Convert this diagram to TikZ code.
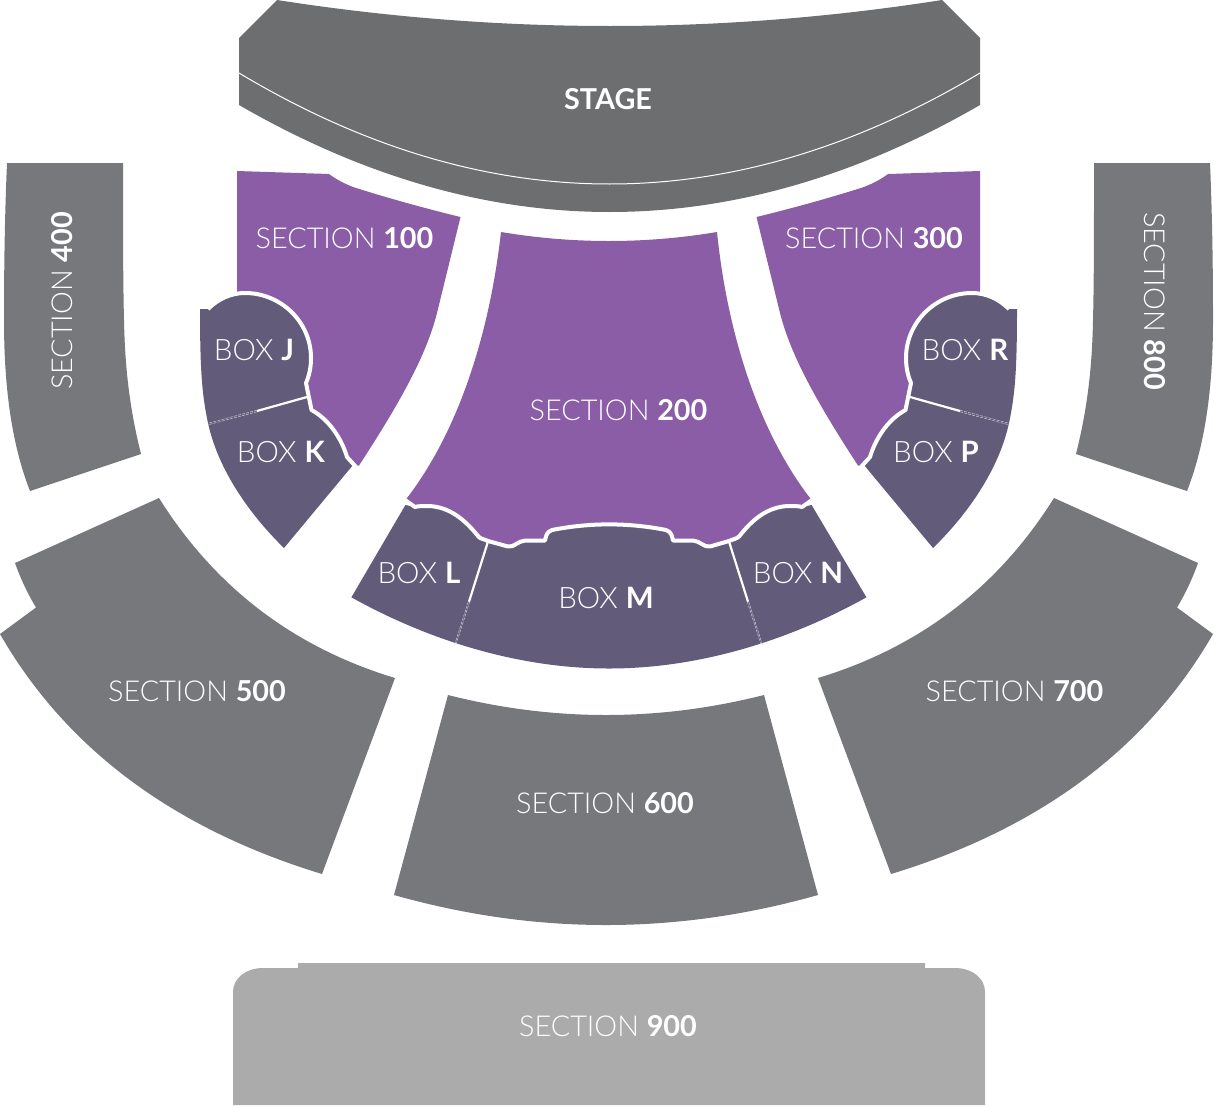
\documentclass[tikz,border=0pt]{standalone}
\usepackage{fontspec}
\setmainfont{Lato}[UprightFont=* Light,BoldFont=* Bold]
\usetikzlibrary{calc}
\definecolor{stagecol}{HTML}{6D6E70}
\definecolor{seccol}{HTML}{77787B}
\definecolor{backcol}{HTML}{ABABAB}
\definecolor{purplecol}{HTML}{8A5DA6}
\definecolor{boxcol}{HTML}{625C7A}
\newcommand\qc[3]{.. controls ($1.3333*(#2)-0.3333*(#3)$) and ($1.3333*(#2)-0.3333*(#1)$) .. (#3)}
\newcommand\midline{(415,507) .. controls (418,506) and (423,506) .. (429,506)
 .. controls (450,507) and (465,520) .. (478,536) .. controls (480,539) and (484,539) .. (488,541)
 -- (508,546.5) .. controls (514,547.5) and (518,541) .. (525,540.5) -- (545,540.5)
 .. controls (546,537) and (546,532) .. (552,530) .. controls (590,522.5) and (628,522.5) .. (666,530)
 .. controls (672,532) and (672,537) .. (673,540.5) -- (693,540.5)
 .. controls (700,541) and (704,547.5) .. (710,546.5) -- (729,541)
 .. controls (733,539) and (737,539) .. (739.5,536) .. controls (752,520) and (767,507) .. (788,506)
 .. controls (794,506) and (799,506) .. (802,507)}
\newcommand\sideline{(208,309) .. controls (218,299) and (231,293) .. (245,293)
 .. controls (281,293) and (311,322) .. (311,358) .. controls (311,368) and (309,376) .. (306,383)
 -- (311.5,410) .. controls (330,420) and (342,440) .. (347,457)}
\newcommand\sidepurple{
  \fill[purplecol] (237,171) -- (329,174) \qc{329,174}{340,181}{353,187} \qc{353,187}{405,202.5}{460.5,217}
    \qc{460.5,217}{449,264}{437,313} .. controls (427,352) and (405,395) .. (359,465.5)
    -- (356,466) -- (340,465) -- (300,420) -- (290,340) -- (237,320) -- cycle;
  \fill[boxcol] (200,309) -- \sideline -- (353,465) -- (284,548)
    .. controls (245,510) and (217,465) .. (208,423)
    .. controls (202,395) and (200,370) .. (200,309) -- cycle;
  \draw[whiteline] \sideline -- (356.5,467.5);
  \draw[divline] (307,397) -- (257,411);
  \draw[dashline] (257,410.2) -- (208,423.2);
  \draw[dashline] (257,411.8) -- (208,424.8);
}
\newcommand\sidegray{
  \fill[seccol] (7,163) -- (123,163) .. controls (123,230) and (123,280) .. (124,320)
    .. controls (125,370) and (130,410) .. (141,454) -- (30,491)
    .. controls (10,440) and (4,380) .. (4,320) .. controls (4,260) and (5,210) .. (7,163) -- cycle;
}
\tikzset{
  whiteline/.style={draw=white,line width=4pt,line join=round},
  divline/.style={draw=white,line width=2.2pt},
  dashline/.style={draw=white!70!boxcol,line width=0.5pt,dash pattern=on 3pt off 1.2pt},
  mirrored/.style={shift={(1217,0)},xscale=-1},
  lab/.style={text=white,font=\fontsize{28.8}{31}\selectfont,inner sep=0pt},
  blab/.style={lab,font=\fontsize{29.5}{31}\selectfont},
}
\begin{document}
\begin{tikzpicture}[x=1pt,y=-1pt]
\useasboundingbox (0,0) rectangle (1214,1106);
% stage
\fill[stagecol] (277,0) \qc{277,0}{610,26}{942,0} -- (980,38) -- (980,105)
  \qc{980,105}{609.5,212}{239,105} -- (239,38) -- cycle;
\draw[draw=white,line width=1pt] (239,73) \qc{239,73}{609.5,184}{980,73};
% section 200
\fill[purplecol] (405.5,500) -- \midline -- (811.5,500)
  .. controls (757,430) and (727,330) .. (717,232) \qc{717,232}{609,241}{501,232}
  .. controls (490,330) and (460,430) .. (405.5,500) -- cycle;
% bottom boxes
\fill[boxcol] (351.4,597.3) -- (405.4,505) -- \midline -- (811.6,505) -- (866.4,597.3)
  .. controls (790,640) and (700,668.5) .. (609,668.5)
  .. controls (518,668.5) and (428,640) .. (351.4,597.3) -- cycle;
\draw[whiteline] (405,500) -- \midline -- (812,500);
\draw[divline] (488,541.5) -- (469,601.7);
\draw[divline] (729,541.5) -- (748,601.7);
\draw[dashline] (468.3,601.7) -- (454.7,644.3);
\draw[dashline] (469.7,601.7) -- (456.1,644.3);
\draw[dashline] (747.3,601.7) -- (761.1,645);
\draw[dashline] (748.7,601.7) -- (762.5,645);
% sides
\sidepurple
\begin{scope}[mirrored]\sidepurple\end{scope}
\sidegray
\begin{scope}[mirrored]\sidegray\end{scope}
% section 500
\fill[seccol] (159,498) \qc{159,498}{260,610}{395,678} -- (322,874)
  \qc{322,874}{130,780}{0,634} -- (36,607.5) \qc{36,607.5}{24.5,586}{15,563} -- cycle;
% section 700
\fill[seccol] (1054,498) \qc{1054,498}{953,610}{818,678} -- (891,874)
  \qc{891,874}{1083,780}{1213,634} -- (1177,607.5) \qc{1177,607.5}{1188.5,586}{1198,563} -- cycle;
% section 600
\fill[seccol] (448,695) \qc{448,695}{606,715}{764,695} -- (818,895)
  \qc{818,895}{606,925}{394,895} -- cycle;
% section 900
\fill[backcol] (298,963) -- (925,963) -- (925,968) -- (955,968)
  .. controls (972,968) and (985,978) .. (985,992) -- (985,1105) -- (233,1105) -- (233,992)
  .. controls (233,978) and (246,968) .. (263,968) -- (298,968) -- cycle;
% labels
\node[lab] (stage) at (608,99) {\textbf{STAGE}};
\node[lab] (s100) at (344.5,238) {SECTION \textbf{100}};
\node[lab] (s200) at (618.5,410) {SECTION \textbf{200}};
\node[lab] (s300) at (874,238) {SECTION \textbf{300}};
\node[lab,rotate=90] (s400) at (62,301) {SECTION \textbf{400}};
\node[lab,rotate=-90] (s800) at (1155,301) {SECTION \textbf{800}};
\node[lab] (s500) at (197,691) {SECTION \textbf{500}};
\node[lab] (s600) at (605,803) {SECTION \textbf{600}};
\node[lab] (s700) at (1014.5,691) {SECTION \textbf{700}};
\node[lab] (s900) at (608,1026) {SECTION \textbf{900}};
\node[blab] (bj) at (254,350) {BOX \textbf{J}};
\node[blab] (bk) at (281,452) {BOX \textbf{K}};
\node[blab] (bl) at (419,573) {BOX \textbf{L}};
\node[blab] (bm) at (606,598) {BOX \textbf{M}};
\node[blab] (bn) at (798,573) {BOX \textbf{N}};
\node[blab] (bp) at (936,452) {BOX \textbf{P}};
\node[blab] (br) at (965,350) {BOX \textbf{R}};
\end{tikzpicture}
\end{document}
